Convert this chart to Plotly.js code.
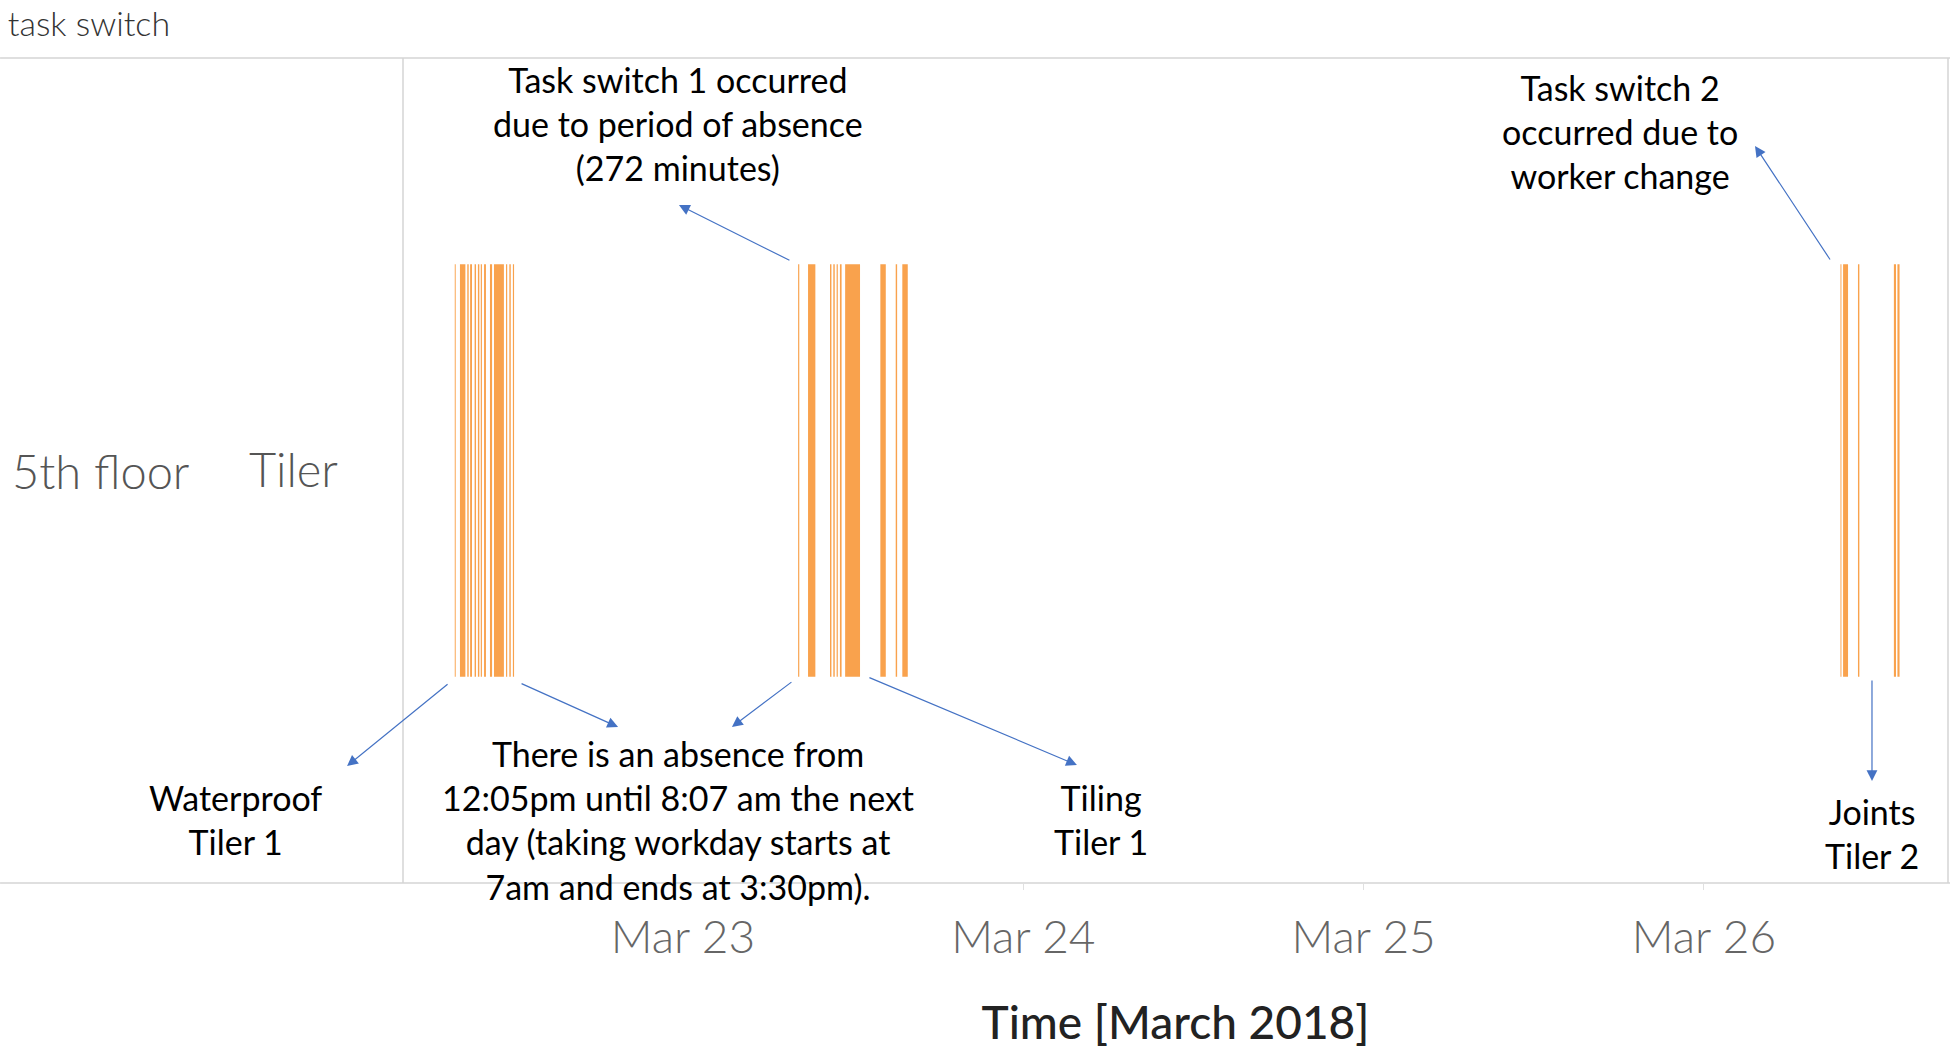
<!DOCTYPE html>
<html>
<head>
<meta charset="utf-8">
<script src="https://cdn.plot.ly/plotly-3.0.1.min.js"></script>
<style>html,body{margin:0;padding:0;background:#fff;}#chart{width:1950px;height:1056px;}</style>
</head>
<body>
<div id="chart"></div>
<script>
// ---- data ----
const rowLabel = 'Tiler';
const groupLabel = '5th floor';
const chartTitle = 'task switch';
const xTitle = 'Time [March 2018]';
const xRange = ['2018-03-22 04:15', '2018-03-26 17:13'];

// activity segments (start / end)
const segStart = [
  '2018-03-22 07:54','2018-03-22 08:16','2018-03-22 08:47','2018-03-22 08:59','2018-03-22 09:18',
  '2018-03-22 09:32','2018-03-22 09:44','2018-03-22 09:58','2018-03-22 10:23','2018-03-22 10:40',
  '2018-03-22 11:31','2018-03-22 11:45','2018-03-22 12:00',
  '2018-03-23 08:07','2018-03-23 08:49','2018-03-23 10:22','2018-03-23 10:36','2018-03-23 10:50',
  '2018-03-23 11:04','2018-03-23 11:26','2018-03-23 13:55','2018-03-23 15:00','2018-03-23 15:28',
  '2018-03-26 09:38','2018-03-26 09:49','2018-03-26 10:52','2018-03-26 13:24','2018-03-26 13:39'
];
const segEnd = [
  '2018-03-22 07:58','2018-03-22 08:39','2018-03-22 08:53','2018-03-22 09:07','2018-03-22 09:24',
  '2018-03-22 09:38','2018-03-22 09:49','2018-03-22 10:06','2018-03-22 10:32','2018-03-22 11:22',
  '2018-03-22 11:36','2018-03-22 11:51','2018-03-22 12:05',
  '2018-03-23 08:12','2018-03-23 09:20','2018-03-23 10:28','2018-03-23 10:42','2018-03-23 10:55',
  '2018-03-23 11:11','2018-03-23 12:29','2018-03-23 14:18','2018-03-23 15:06','2018-03-23 15:51',
  '2018-03-26 09:42','2018-03-26 10:10','2018-03-26 10:58','2018-03-26 13:33','2018-03-26 13:48'
];

// annotation texts
const noteTexts = [
  'Task switch 1 occurred<br>due to period of absence<br>(272 minutes)',
  'Task switch 2<br>occurred due to<br>worker change',
  'Waterproof<br>Tiler 1',
  'There is an absence from<br>12:05pm until 8:07 am the next<br>day (taking workday starts at<br>7am and ends at 3:30pm).',
  'Tiling<br>Tiler 1',
  'Joints<br>Tiler 2'
];

// ---- build ----
const toMs = s => Date.parse(s.replace(' ', 'T') + ':00Z');
const durations = segStart.map((s, i) => toMs(segEnd[i]) - toMs(s));

const trace = {
  type: 'bar',
  orientation: 'h',
  y: segStart.map(() => rowLabel),
  base: segStart,
  x: durations,
  marker: {color: '#F9A24D', line: {width: 0}},
  hoverinfo: 'skip'
};

const lightFont = 'Lato, "Open Sans", sans-serif';
const noteFont = {family: 'Lato, "Open Sans", sans-serif', size: 34, color: '#000'};
const arrowColor = '#4472C4';

// text note placement (paper coords)
const notePos = [
  [0.178, 0.920], [0.7877, 0.9115], [-0.1081, 0.0764],
  [0.178, 0.0764], [0.4518, 0.0764], [0.9508, 0.0594]
];
const annotations = noteTexts.map((t, i) => ({
  xref: 'paper', yref: 'paper', x: notePos[i][0], y: notePos[i][1],
  xanchor: 'center', yanchor: 'middle', text: t, showarrow: false,
  font: noteFont, align: 'center'
}));

// arrows: head (paper) and tail offset (px)
const arrows = [
  [0.1786, 0.8218, 112, 56],
  [0.8751, 0.8933, 76, 115],
  [-0.0362, 0.1418, 102, -83],
  [0.1392, 0.1891, -98, -44],
  [0.2129, 0.1891, 61, -46],
  [0.4362, 0.1430, -209, -88],
  [0.9508, 0.1236, 0, -102]
];
arrows.forEach(a => annotations.push({
  xref: 'paper', yref: 'paper', x: a[0], y: a[1], ax: a[2], ay: a[3],
  axref: 'pixel', ayref: 'pixel', text: '', showarrow: true,
  arrowhead: 2, arrowsize: 1.8, arrowwidth: 1.2, arrowcolor: arrowColor,
  standoff: 0, startstandoff: 0
}));

annotations.push({
  xref: 'paper', yref: 'paper', x: -0.2545, y: 0.499, xanchor: 'left', yanchor: 'middle',
  text: groupLabel, showarrow: false,
  font: {family: lightFont, size: 47, color: '#555', weight: 300}
});

const borderColor = '#d4d4d4';
const shapes = [
  {type: 'line', xref: 'paper', yref: 'paper', x0: -0.2608, x1: 1.0013, y0: 1, y1: 1, line: {color: borderColor, width: 1.5}},
  {type: 'line', xref: 'paper', yref: 'paper', x0: -0.2608, x1: 1.0013, y0: 0, y1: 0, line: {color: borderColor, width: 1.5}},
  {type: 'line', xref: 'paper', yref: 'paper', x0: 0, x1: 0, y0: 0, y1: 1, line: {color: borderColor, width: 1.5}},
  {type: 'line', xref: 'paper', yref: 'paper', x0: 1, x1: 1, y0: 0, y1: 1, line: {color: borderColor, width: 1.5}}
];

const layout = {
  width: 1950, height: 1056,
  margin: {l: 403, r: 2, t: 58, b: 173},
  paper_bgcolor: '#fff', plot_bgcolor: '#fff',
  showlegend: false,
  bargap: 0.5,
  title: {
    text: chartTitle, xref: 'container', yref: 'container',
    x: 0.004, xanchor: 'left', y: 0.977, yanchor: 'middle',
    font: {family: lightFont, size: 34, color: '#333', weight: 300}
  },
  xaxis: {
    type: 'date', range: xRange, tick0: '2018-03-23', dtick: 86400000,
    tickformat: '%b %d', ticks: 'outside', ticklen: 6, tickcolor: '#e0e0e0',
    tickfont: {family: lightFont, size: 46, color: '#666', weight: 300},
    ticklabelstandoff: 8,
    showgrid: false, zeroline: false, showline: false, automargin: false,
    title: {text: xTitle, standoff: 44, font: {family: 'Lato, sans-serif', size: 46, color: '#222', weight: 500}}
  },
  yaxis: {
    type: 'category', range: [-0.5, 0.5], ticks: '', ticklabelstandoff: 64,
    tickfont: {family: lightFont, size: 47, color: '#555', weight: 300},
    showgrid: false, zeroline: false, showline: false, automargin: false
  },
  shapes: shapes,
  annotations: annotations
};

Plotly.newPlot('chart', [trace], layout, {displayModeBar: false, staticPlot: true});
</script>
</body>
</html>
